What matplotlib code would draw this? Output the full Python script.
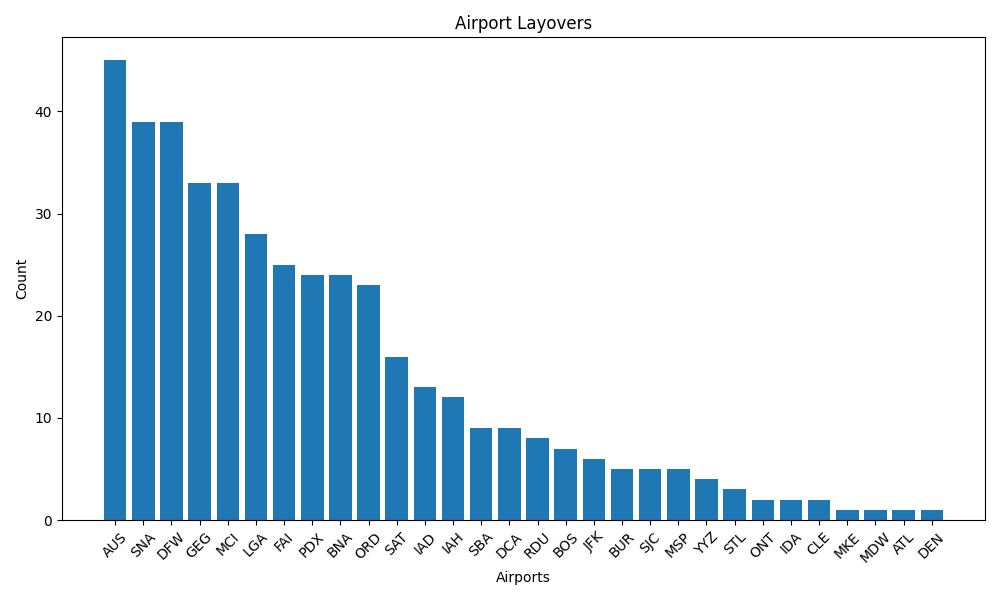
import matplotlib
matplotlib.use("Agg")
import matplotlib.pyplot as plt

airports = ["AUS","SNA","DFW","GEG","MCI","LGA","FAI","PDX","BNA","ORD","SAT","IAD","IAH","SBA","DCA","RDU","BOS","JFK","BUR","SJC","MSP","YYZ","STL","ONT","IDA","CLE","MKE","MDW","ATL","DEN"]
counts = [45,39,39,33,33,28,25,24,24,23,16,13,12,9,9,8,7,6,5,5,5,4,3,2,2,2,1,1,1,1]

fig, ax = plt.subplots(figsize=(10, 6), dpi=100)
ax.bar(airports, counts, color="#1f77b4")
ax.set_title("Airport Layovers")
ax.set_xlabel("Airports")
ax.set_ylabel("Count")
plt.xticks(rotation=45)
plt.tight_layout()
fig.savefig("out.png")
